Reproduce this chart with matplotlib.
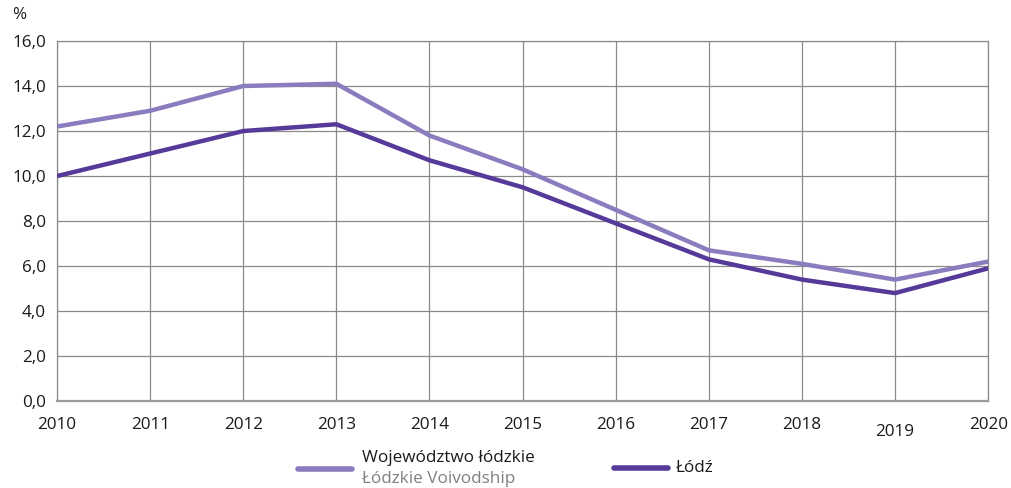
import matplotlib
matplotlib.use("Agg")
import matplotlib.pyplot as plt
from matplotlib.lines import Line2D

plt.rcParams['font.family'] = ['Open Sans', 'DejaVu Sans']

years = [2010, 2011, 2012, 2013, 2014, 2015, 2016, 2017, 2018, 2019, 2020]
voivodship = [12.2, 12.9, 14.0, 14.1, 11.8, 10.3, 8.5, 6.7, 6.1, 5.4, 6.2]
lodz = [10.0, 11.0, 12.0, 12.3, 10.7, 9.5, 7.9, 6.3, 5.4, 4.8, 5.9]
y_ticks = [0, 2, 4, 6, 8, 10, 12, 14, 16]

light = '#8b7bbf'
dark = '#553a99'
grid_c = '#8a8a8a'
fs = 12.3

fig = plt.figure(figsize=(10.11, 4.88), dpi=100)
ax = fig.add_axes([0.0564, 0.178, 0.921, 0.738])

ax.plot(years, voivodship, color=light, lw=3.2, solid_capstyle='butt', zorder=3)
ax.plot(years, lodz, color=dark, lw=3.2, solid_capstyle='butt', zorder=4)

ax.set_xlim(2010, 2020)
ax.set_ylim(0, 16)
ax.set_yticks(y_ticks)
ax.set_yticklabels([f'{v:.1f}'.replace('.', ',') for v in y_ticks], fontsize=fs)
ax.set_xticks(years)
ax.set_xticklabels([])
for yr in years:
    off = -28 if yr == 2019 else -23
    ax.annotate(str(yr), xy=(yr, 0), xytext=(0, off), textcoords='offset points',
                ha='center', va='bottom', fontsize=fs, color='#1a1a1a',
                annotation_clip=False)

ax.grid(True, color=grid_c, lw=0.9)
ax.set_axisbelow(True)
ax.tick_params(length=0, pad=8, colors='#1a1a1a')
for side in ['top', 'right', 'left']:
    ax.spines[side].set_color(grid_c)
    ax.spines[side].set_linewidth(0.9)
ax.spines['bottom'].set_color('#9a9a9a')
ax.spines['bottom'].set_linewidth(1.6)

fig.text(12 / 1011, 1 - 15 / 488, '%', fontsize=fs, ha='left', va='center', color='#1a1a1a')

# legend
fig.add_artist(Line2D([298 / 1011, 352 / 1011], [1 - 469 / 488] * 2,
                      color=light, lw=4, solid_capstyle='round'))
fig.text(362 / 1011, 1 - 458 / 488, 'Województwo łódzkie', fontsize=fs,
         ha='left', va='center', color='#1a1a1a')
fig.text(362 / 1011, 1 - 479 / 488, 'Łódzkie Voivodship', fontsize=fs,
         ha='left', va='center', color='#808080')
fig.add_artist(Line2D([614 / 1011, 668 / 1011], [1 - 468 / 488] * 2,
                      color=dark, lw=4, solid_capstyle='round'))
fig.text(676 / 1011, 1 - 468 / 488, 'Łódź', fontsize=fs,
         ha='left', va='center', color='#1a1a1a')

fig.savefig('out.png', dpi=100, facecolor='white')
plt.close(fig)
